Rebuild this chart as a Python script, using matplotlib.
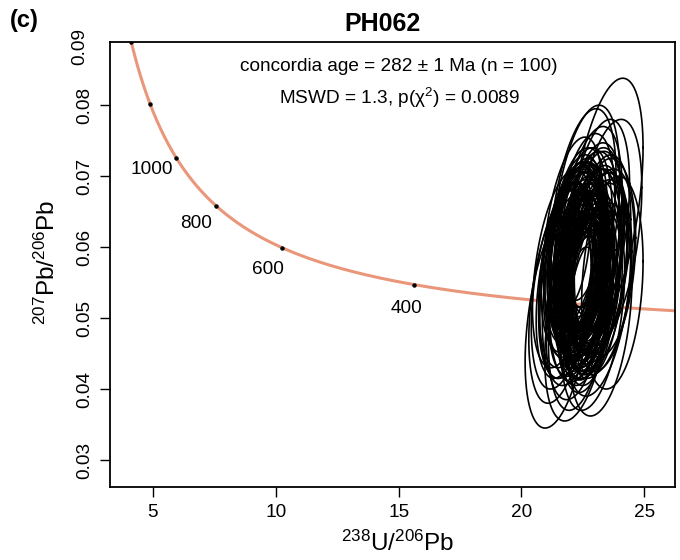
import numpy as np
import matplotlib
matplotlib.use('Agg')
import matplotlib.pyplot as plt

plt.rcParams['font.family'] = ['Liberation Sans', 'DejaVu Sans']
plt.rcParams['mathtext.fontset'] = 'custom'
plt.rcParams['mathtext.rm'] = 'Liberation Sans'
plt.rcParams['mathtext.it'] = 'Liberation Sans'

# U-Pb ellipse data (238U/206Pb, 207Pb/206Pb), 95% half-widths and error correlation
x_c = [22.4, 22.6, 22.3, 22.8, 22.5, 22.1, 22.7, 22.9, 22.2, 22.6,
       22.5, 23.0, 22.3, 22.4, 22.8, 21.9, 22.6, 22.7, 23.1, 22.0,
       22.5, 22.3, 22.9, 22.6, 22.2, 22.4, 23.2, 22.8, 22.1, 22.7,
       22.5, 22.6, 22.0, 23.0, 22.4, 22.3, 22.9, 21.8, 22.6, 22.5,
       22.7, 22.2, 23.3, 22.4, 22.8, 21.9, 22.6, 23.0, 22.3, 22.5,
       22.1, 22.7, 22.4, 22.9, 22.6, 22.2, 23.1, 22.5, 22.8, 22.0,
       22.6, 22.3, 22.7, 22.4, 21.7, 23.4, 22.5, 22.2, 22.9, 22.6,
       22.4, 22.8, 22.1, 22.6, 23.0, 22.3, 22.7, 21.5, 23.45, 23.7,
       22.5, 22.9, 22.2, 22.6, 22.4, 23.2, 21.6, 22.8, 22.3, 23.5,
       22.7, 22.1, 23.2, 22.9, 22.4, 23.1, 21.7, 22.6, 22.3, 23.3]
y_c = [.0560, .0575, .0548, .0590, .0552, .0540, .0605, .0580, .0565, .0530,
       .0585, .0600, .0570, .0525, .0555, .0545, .0615, .0540, .0570, .0560,
       .0595, .0535, .0565, .0550, .0580, .0610, .0575, .0520, .0555, .0590,
       .0545, .0625, .0575, .0535, .0568, .0590, .0600, .0550, .0510, .0578,
       .0558, .0600, .0560, .0530, .0620, .0572, .0548, .0585, .0505, .0640,
       .0588, .0545, .0598, .0562, .0535, .0515, .0630, .0572, .0542, .0600,
       .0566, .0582, .0520, .0605, .0545, .0585, .0535, .0560, .0612, .0595,
       .0550, .0570, .0620, .0540, .0565, .0600, .0528, .0500, .0660, .0550,
       .0575, .0515, .0585, .0635, .0545, .0590, .0530, .0605, .0500, .0620,
       .0560, .0580, .0512, .0550, .0595, .0540, .0570, .0518, .0610, .0565]
x_err = [1.10, 0.75, 1.20, 0.80, 0.65, 1.25, 0.85, 1.20, 0.70, 1.15,
         1.05, 1.20, 1.10, 1.00, 1.25, 1.15, 1.10, 1.05, 1.20, 1.30,
         0.70, 1.15, 0.85, 0.60, 1.25, 0.80, 1.15, 1.05, 0.75, 1.00,
         0.95, 1.20, 1.30, 1.10, 1.00, 1.15, 1.25, 1.20, 1.05, 0.90,
         1.05, 1.15, 1.20, 1.00, 1.30, 1.10, 0.95, 1.15, 1.20, 1.35,
         1.15, 0.70, 1.10, 0.85, 0.75, 1.20, 1.30, 0.65, 1.10, 0.80,
         0.70, 1.15, 0.80, 1.05, 1.30, 1.25, 0.60, 0.85, 1.20, 0.75,
         1.10, 1.25, 1.20, 1.00, 1.30, 1.15, 1.05, 1.35, 1.50, 1.25,
         1.05, 1.30, 1.15, 1.40, 1.00, 1.25, 1.30, 1.20, 1.35, 1.40,
         1.10, 1.20, 1.30, 1.15, 1.05, 1.35, 1.25, 1.00, 1.20, 1.30]
y_err = [.0120, .0080, .0130, .0085, .0070, .0135, .0090, .0130, .0075, .0125,
         .0115, .0135, .0120, .0110, .0140, .0130, .0125, .0115, .0135, .0145,
         .0080, .0125, .0090, .0065, .0140, .0085, .0130, .0115, .0080, .0105,
         .0100, .0135, .0145, .0120, .0105, .0125, .0140, .0135, .0115, .0095,
         .0110, .0130, .0135, .0105, .0150, .0120, .0100, .0130, .0135, .0155,
         .0125, .0075, .0120, .0095, .0080, .0130, .0150, .0070, .0120, .0090,
         .0075, .0125, .0090, .0115, .0145, .0140, .0065, .0090, .0135, .0080,
         .0120, .0140, .0135, .0105, .0145, .0125, .0115, .0155, .0178, .0150,
         .0115, .0145, .0125, .0165, .0105, .0140, .0150, .0130, .0145, .0160,
         .0120, .0135, .0150, .0125, .0110, .0150, .0140, .0105, .0130, .0145]
rho = [.30, .25, .35, .30, .20, .35, .30, .25, .30, .35,
       .25, .30, .35, .20, .30, .35, .25, .30, .35, .40,
       .30, .25, .35, .20, .30, .25, .35, .30, .25, .30,
       .20, .35, .40, .30, .25, .30, .35, .40, .25, .20,
       .30, .35, .25, .30, .40, .30, .25, .35, .30, .40,
       .35, .25, .30, .35, .20, .30, .40, .25, .30, .35,
       .25, .30, .35, .30, .40, .20, .25, .30, .35, .30,
       .30, .35, .40, .25, .30, .35, .30, .40, .45, .20,
       .25, .35, .30, .40, .25, .35, .40, .30, .40, .40,
       .30, .35, .30, .30, .25, .35, .40, .25, .35, .35]

tick_ages = [400, 600, 800, 1000, 1200, 1400]
label_ages = [400, 600, 800, 1000]

# decay constants (1/Ma)
l38 = 1.55125e-4
l35 = 9.8485e-4
U85 = 137.818


def tera_wasserburg(t):
    t = np.asarray(t, dtype=float)
    d38 = np.exp(l38 * t) - 1
    d35 = np.exp(l35 * t) - 1
    return 1 / d38, d35 / d38 / U85


fig = plt.figure(figsize=(6.8, 5.6), dpi=100)
ax = fig.add_axes([110 / 680, 1 - 487 / 560, 565 / 680, 445 / 560])
ax.set_xlim(3.255, 26.25)
ax.set_ylim(0.0262, 0.0889)

# concordia line
t = np.linspace(230, 1500, 600)
cx, cy = tera_wasserburg(t)
ax.plot(cx, cy, color='#E9967A', lw=2.2, zorder=1)
tx, ty = tera_wasserburg(tick_ages)
ax.plot(tx, ty, 'o', color='black', ms=2.2, zorder=2)

# age labels offset along the curve normal (pixel space)
for age in label_ages:
    p0 = ax.transData.transform(np.column_stack(tera_wasserburg([age - 20, age + 20])))
    d = p0[1] - p0[0]
    d = d / np.hypot(*d)
    nrm = np.array([d[1], -d[0]])
    if nrm[1] > 0:
        nrm = -nrm
    px, py = tera_wasserburg(age)
    ax.annotate(str(age), (px, py), xytext=(nrm[0] * 26 - 3, nrm[1] * 26 + 2),
                textcoords='offset pixels', ha='center', va='center', fontsize=13.7)

# error ellipses
th = np.linspace(0, 2 * np.pi, 100)
for xc, yc, ex, ey, r in zip(x_c, y_c, x_err, y_err, rho):
    ex_pts = xc + ex * np.cos(th)
    ey_pts = yc + ey * (r * np.cos(th) + np.sqrt(1 - r ** 2) * np.sin(th))
    ax.plot(ex_pts, ey_pts, color='black', lw=1.2, zorder=3)

ax.set_xticks([5, 10, 15, 20, 25])
ax.set_yticks([0.03, 0.04, 0.05, 0.06, 0.07, 0.08])
ax.tick_params(direction='out', length=7, width=1, labelsize=13.7, pad=5)
for lab in ax.get_yticklabels():
    lab.set_rotation(90)
    lab.set_va('center')
ax.text(-0.053, 0.0882, '0.09', transform=ax.get_yaxis_transform(), rotation=90,
        ha='center', va='center', fontsize=13.7, clip_on=False)
for sp in ax.spines.values():
    sp.set_linewidth(1.3)

ax.text(0.5115, 0.944, 'concordia age = 282 \u00b1 1 Ma (n = 100)', transform=ax.transAxes,
        ha='center', va='center', fontsize=13.7)
ax.text(0.5115, 0.874, 'MSWD = 1.3, p(\u03c7$^2$) = 0.0089', transform=ax.transAxes,
        ha='center', va='center', fontsize=13.7)

ax.text(0.51, -0.126, r'$\mathregular{^{238}U/^{206}Pb}$', transform=ax.transAxes,
        ha='center', va='center', fontsize=17.5)
ax.text(-0.1115, 0.5056, r'$\mathregular{^{207}Pb/^{206}Pb}$', transform=ax.transAxes,
        ha='center', va='center', fontsize=17.5, rotation=90)

fig.text(382 / 680, 1 - 24 / 560, 'PH062', ha='center', va='center', fontsize=18,
         fontweight='bold')
fig.text(24 / 680, 1 - 21 / 560, '(c)', ha='center', va='center', fontsize=17,
         fontweight='bold')

fig.savefig('out.png', dpi=100)
